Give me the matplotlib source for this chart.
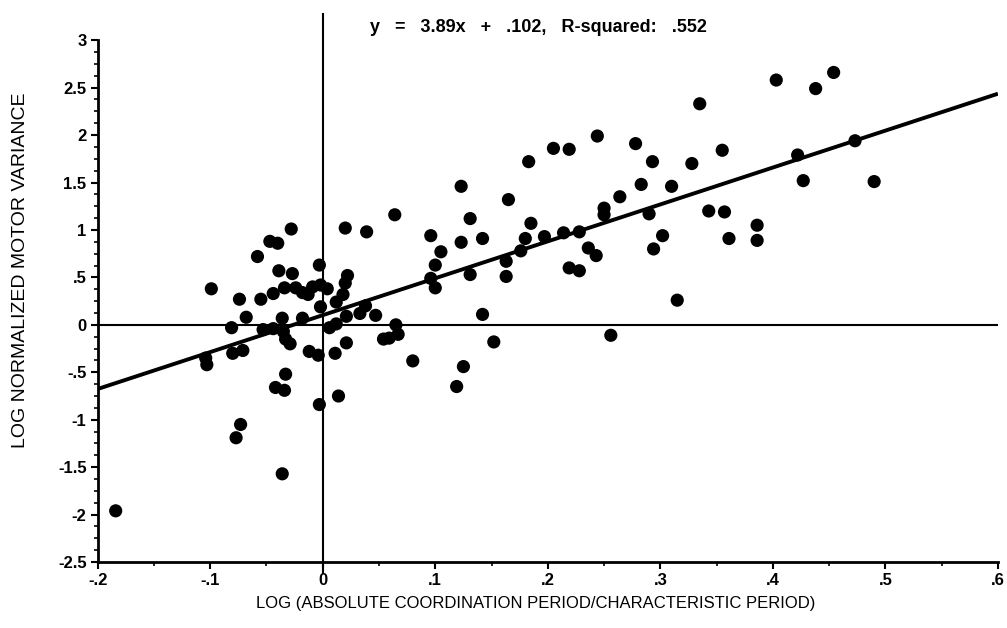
import matplotlib
matplotlib.use("Agg")
import matplotlib.pyplot as plt
from matplotlib.ticker import MultipleLocator

# log(coordination period / characteristic period)
x_vals = [-0.184, -0.104, -0.103, -0.099, -0.080, -0.071, -0.077, -0.073,
          -0.081, -0.074, -0.068, -0.055, -0.058, -0.047, -0.040, -0.028,
          -0.039, -0.027, -0.044, -0.034, -0.053, -0.044, -0.036, -0.035,
          -0.033, -0.029, -0.033, -0.042, -0.034, -0.036, -0.024, -0.018,
          -0.009, -0.002, 0.004, -0.013, -0.003, -0.018, -0.002, -0.012,
          -0.004, -0.003, 0.014, 0.006, 0.012, 0.011, 0.012, 0.018,
          0.022, 0.020, 0.020, 0.039, 0.021, 0.021, 0.033, 0.038,
          0.047, 0.054, 0.059, 0.065, 0.067, 0.064, 0.080, 0.096,
          0.100, 0.096, 0.100, 0.105, 0.123, 0.123, 0.131, 0.131,
          0.142, 0.142, 0.125, 0.119, 0.152, 0.163, 0.163, 0.165,
          0.176, 0.180, 0.185, 0.183, 0.197, 0.214, 0.205, 0.219,
          0.219, 0.228, 0.228, 0.236, 0.243, 0.244, 0.250, 0.250,
          0.256, 0.264, 0.278, 0.283, 0.290, 0.293, 0.294, 0.302,
          0.310, 0.315, 0.328, 0.335, 0.343, 0.355, 0.357, 0.361,
          0.386, 0.386, 0.403, 0.422, 0.427, 0.438, 0.454, 0.473,
          0.490]

# log normalized motor variance
y_vals = [-1.96, -0.35, -0.42, 0.38, -0.30, -0.27, -1.19, -1.05,
          -0.03, 0.27, 0.08, 0.27, 0.72, 0.88, 0.86, 1.01,
          0.57, 0.54, 0.33, 0.39, -0.05, -0.04, 0.07, -0.07,
          -0.15, -0.20, -0.52, -0.66, -0.69, -1.57, 0.39, 0.34,
          0.40, 0.42, 0.38, 0.32, 0.63, 0.07, 0.19, -0.28,
          -0.32, -0.84, -0.75, -0.03, 0.01, -0.30, 0.24, 0.32,
          0.52, 0.44, 1.02, 0.98, 0.09, -0.19, 0.12, 0.20,
          0.10, -0.15, -0.14, 0.00, -0.10, 1.16, -0.38, 0.94,
          0.63, 0.49, 0.39, 0.77, 1.46, 0.87, 1.12, 0.53,
          0.91, 0.11, -0.44, -0.65, -0.18, 0.67, 0.51, 1.32,
          0.78, 0.91, 1.07, 1.72, 0.93, 0.97, 1.86, 1.85,
          0.60, 0.98, 0.57, 0.81, 0.73, 1.99, 1.23, 1.16,
          -0.11, 1.35, 1.91, 1.48, 1.17, 1.72, 0.80, 0.94,
          1.46, 0.26, 1.70, 2.33, 1.20, 1.84, 1.19, 0.91,
          1.05, 0.89, 2.58, 1.79, 1.52, 2.49, 2.66, 1.94,
          1.51]

slope = 3.89
intercept = 0.102

x_ticks = [-0.2, -0.1, 0, 0.1, 0.2, 0.3, 0.4, 0.5, 0.6]
x_tick_labels = ['-.2', '-.1', '0', '.1', '.2', '.3', '.4', '.5', '.6']
y_ticks = [3, 2.5, 2, 1.5, 1, 0.5, 0, -0.5, -1, -1.5, -2, -2.5]
y_tick_labels = ['3', '2.5', '2', '1.5', '1', '.5', '0', '-.5', '-1', '-1.5', '-2', '-2.5']

title = 'y   =   3.89x   +   .102,   R-squared:   .552'
x_label = 'LOG (ABSOLUTE COORDINATION PERIOD/CHARACTERISTIC PERIOD)'
y_label = 'LOG NORMALIZED MOTOR VARIANCE'

plt.rcParams['font.family'] = ['Liberation Sans', 'DejaVu Sans']

fig = plt.figure(figsize=(10.07, 6.28), dpi=100)
ax = fig.add_axes([0.097, 0.105, 0.894, 0.831])

ax.set_xlim(-0.2, 0.6)
ax.set_ylim(-2.5, 3.0)

# reference lines: zero level, x = 0, and the fitted regression
ax.axhline(0, color='black', lw=1.5, zorder=1)
ax.plot([0, 0], [-2.62, 3.28], color='black', lw=1.5, clip_on=False, zorder=1)
ax.plot(ax.get_xlim(), [slope * x + intercept for x in ax.get_xlim()],
        color='black', lw=2.8, solid_capstyle='butt', zorder=2)

ax.scatter(x_vals, y_vals, s=90, color='black', edgecolors='none', zorder=3)

for side in ('top', 'right'):
    ax.spines[side].set_visible(False)
for side in ('left', 'bottom'):
    ax.spines[side].set_linewidth(2)

ax.set_xticks(x_ticks)
ax.set_xticklabels(x_tick_labels, fontsize=12, fontweight='bold')
ax.set_yticks(y_ticks)
ax.set_yticklabels(y_tick_labels, fontsize=12, fontweight='bold')
ax.xaxis.set_minor_locator(MultipleLocator(0.05))
ax.yaxis.set_minor_locator(MultipleLocator(0.125))
ax.tick_params(which='major', length=5, width=1.5, pad=3)
ax.tick_params(which='minor', length=3, width=1.2)

ax.set_xlabel(x_label, fontsize=12)
ax.set_ylabel(y_label, fontsize=14)
ax.xaxis.set_label_coords(0.487, -0.065)
ax.yaxis.set_label_coords(-0.076, 0.56)
ax.set_title(title, fontsize=13, fontweight='bold', pad=6, x=0.49)

fig.savefig('out.png', dpi=100)
